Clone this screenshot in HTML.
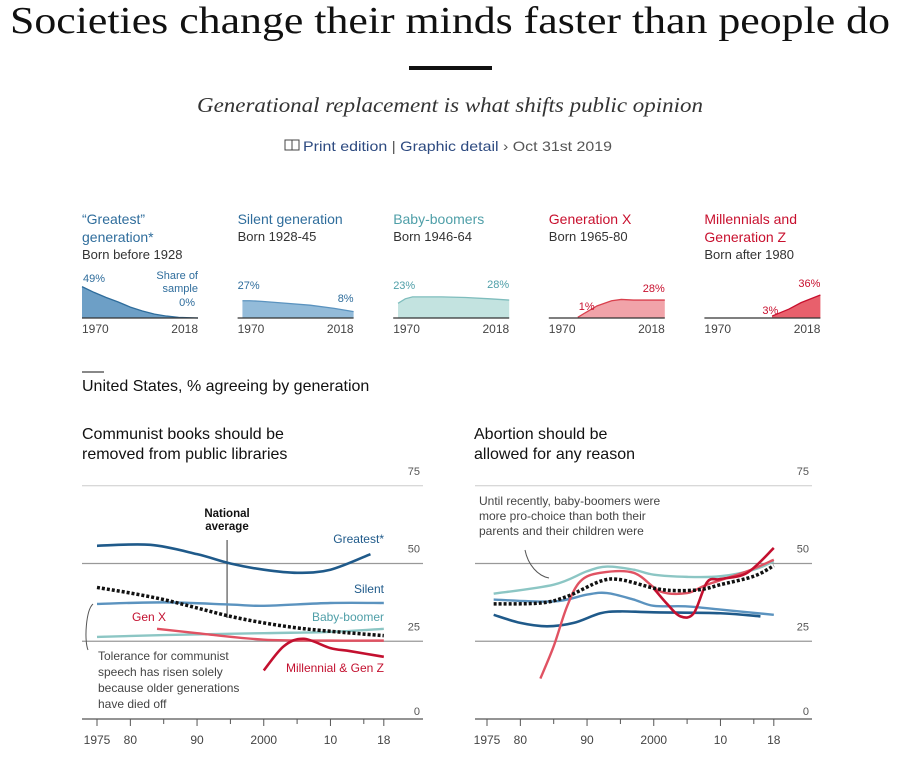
<!DOCTYPE html>
<html><head><meta charset="utf-8"><style>
body{margin:0;background:#fff;width:900px;height:763px;overflow:hidden}
svg text{font-family:"Liberation Sans",sans-serif}
</style></head><body>
<svg id="s" width="900" height="763" xmlns="http://www.w3.org/2000/svg">
<text x="450" y="33" text-anchor="middle" font-size="38" fill="#111" textLength="880" lengthAdjust="spacingAndGlyphs" style="font-family:'Liberation Serif',serif">Societies change their minds faster than people do</text>
<rect x="409" y="66" width="83" height="4" fill="#111"/>
<text x="450" y="112" text-anchor="middle" font-size="21" font-style="italic" fill="#333" textLength="506" lengthAdjust="spacingAndGlyphs" style="font-family:'Liberation Serif',serif">Generational replacement is what shifts public opinion</text>
<g font-size="14">
<rect x="285" y="140" width="7" height="10" fill="none" stroke="#444"/>
<rect x="292" y="140" width="7" height="10" fill="none" stroke="#444"/>
<text x="303" y="151" fill="#555" textLength="309" lengthAdjust="spacingAndGlyphs"><tspan fill="#2d4a80">Print edition</tspan> | <tspan fill="#2d4a80">Graphic detail</tspan> › Oct 31st 2019</text>
</g>
<g id="mini"></g>
<line x1="82" y1="372" x2="104" y2="372" stroke="#111"/>
<text x="82" y="391" font-size="16" fill="#111">United States, % agreeing by generation</text>
<text x="82" y="439" font-size="16" fill="#111">Communist books should be</text>
<text x="82" y="459" font-size="16" fill="#111">removed from public libraries</text>
<text x="474" y="439" font-size="16" fill="#111">Abortion should be</text>
<text x="474" y="459" font-size="16" fill="#111">allowed for any reason</text>
<g id="left"></g><g id="right"></g>
</svg>
<script>
const NS="http://www.w3.org/2000/svg";
// ---- mini chart data (share of sample %)
const miniNames=["\u201cGreatest\u201d|generation*","Silent generation","Baby-boomers","Generation X","Millennials and|Generation Z"];
const miniSub=["Born before 1928","Born 1928-45","Born 1946-64","Born 1965-80","Born after 1980"];
const miniYears=[[1970,1975,1980,1985,1990,1995,2000,2005,2010,2018],[1972,1975,1980,1990,2000,2010,2018],[1972,1975,1978,1985,1990,2000,2010,2018],[1982,1985,1990,1996,2000,2005,2010,2018],[1998,2005,2010,2018]];
const miniVals=[[49,40,32,25,17,11,6,3,1,0],[27,27,26,23,20,15,10],[23,30,33,33,33,32,30,28],[1,8,19,27,29,28,28,28],[3,14,24,36]];
const miniStart=["49%","27%","23%","1%","3%"];
const miniEnd=["0%","8%","28%","28%","36%"];
// ---- left chart data
const lYears={greatest:[1975,1983,1990,1995,2000,2005,2010,2016],silent:[1975,1985,1995,2000,2010,2018],boomer:[1975,1985,2000,2010,2018],genx:[1984,1990,2000,2010,2018],millennial:[2000,2003,2006,2010,2013,2018],national:[1975,1980,1985,1990,1995,2000,2005,2010,2018]};
const lVals={greatest:[55.7,56,53,50,48,47,48,53],silent:[37,37.5,36.8,36.4,37.3,37.3],boomer:[26.4,27,27.6,28,29],genx:[29,27.6,25.5,25.2,25.2],millennial:[15.6,23.4,25.8,22.8,21.8,20],national:[42.3,40.5,38.4,35.7,33,30.9,29.3,28.2,26.8]};
// ---- right chart data
const rYears={boomer:[1976,1985,1990,1993,1997,2000,2005,2010,2015,2018],genx:[1983,1985,1987,1989,1992,1997,2001,2005,2008,2014,2018],millennial:[2000,2002,2004,2006,2008,2010,2014,2018],silent:[1976,1985,1990,1993,1997,2000,2005,2010,2018],greatest:[1976,1980,1984,1988,1992,1995,2000,2010,2016],national:[1976,1983,1987,1992,1995,2000,2003,2007,2010,2015,2018]};
const rVals={boomer:[40.3,43.2,47.5,49,48,46.4,45.7,45.9,48,50.7],genx:[13,23.4,36.2,44.3,47,47,41,40.5,43.2,47.5,51.2],millennial:[42,37,33,34,44,45,47,55],silent:[38.4,37.8,40,40.5,38.4,36.4,36.2,35.2,33.5],greatest:[33.5,30.9,29.8,30.9,34,34.6,34.3,34,33],national:[37,37.3,39.4,44.3,44.8,42.1,41.3,41.6,43.2,45.9,49.3]};
const yTicks=[0,25,50,75];
const xTickLabels=[[1975,"1975"],[1980,"80"],[1990,"90"],[2000,"2000"],[2010,"10"],[2018,"18"]];
const xMinor=[1985,1995,2005,2015];

function el(tag,attrs,parent,name,inter){const e=document.createElementNS(NS,tag);for(const k in attrs)e.setAttribute(k,attrs[k]);


parent.appendChild(e);return e;}
function txt(parent,x,y,s,attrs,name){const t=el('text',Object.assign({x:x,y:y},attrs||{}),parent,name,false);t.textContent=s;return t;}
function smooth(pts){let d="M"+pts[0][0]+","+pts[0][1];for(let i=0;i<pts.length-1;i++){const p0=pts[i-1]||pts[i],p1=pts[i],p2=pts[i+1],p3=pts[i+2]||p2;
d+=" C"+(p1[0]+(p2[0]-p0[0])/6)+","+(p1[1]+(p2[1]-p0[1])/6)+" "+(p2[0]-(p3[0]-p1[0])/6)+","+(p2[1]-(p3[1]-p1[1])/6)+" "+p2[0]+","+p2[1];}return d;}

// mini charts
const mini=document.getElementById('mini');
const lineCols=["#2f6d9c","#5b93bf","#7fbdbd","#d9404d","#c8102e"];
const fillCols=["#6d9fc6","#93bbd9","#c3e3e0","#f1a3a9","#e8606c"];
const titleCols=["#2f6d9c","#2f6d9c","#4f9fa8","#c8102e","#c8102e"];
miniNames.forEach((n,i)=>{
 const px=82+i*155.6,base=318,w=116;
 const g=el('g',{},mini,'mini-chart-'+i,false);
 const parts=n.split("|");
 parts.forEach((p,j)=>txt(g,px,224+j*18,p,{"font-size":14,fill:titleCols[i]},'mini-title'));
 txt(g,px,224+parts.length*18-1,miniSub[i],{"font-size":13,fill:"#333"},'mini-subtitle');
 const mx=y=>px+(y-1970)/48*w, my=v=>base-v*0.64;
 const pts=miniYears[i].map((y,k)=>[mx(y),my(miniVals[i][k])]);
 let d="M"+pts[0][0]+","+base+" L"+pts.map(p=>p.join(",")).join(" L")+" L"+pts[pts.length-1][0]+","+base+"Z";
 el('path',{d:d,fill:fillCols[i],stroke:"none"},g,'mini-area',false);
 el('path',{d:"M"+pts.map(p=>p.join(",")).join(" L"),fill:"none",stroke:lineCols[i],"stroke-width":1.3},g,'mini-area-line',false);
 el('line',{x1:px,y1:base,x2:px+w,y2:base,stroke:"#333","stroke-width":1.2},g,'mini-baseline',false);
 txt(g,px,333,"1970",{"font-size":12,fill:"#444"},'mini-x-start');
 txt(g,px+w,333,"2018",{"font-size":12,fill:"#444","text-anchor":"end"},'mini-x-end');
 const c=titleCols[i];
 if(i==0){txt(g,px+1,282,miniStart[0],{"font-size":11,fill:c},'mini-start-label');
  txt(g,px+w,279,"Share of",{"font-size":11,fill:c,"text-anchor":"end"},'mini-share-label');
  txt(g,px+w,292,"sample",{"font-size":11,fill:c,"text-anchor":"end"},'mini-share-label');
  txt(g,px+w-3,306,miniEnd[0],{"font-size":11,fill:c,"text-anchor":"end"},'mini-end-label');}
 else{const sx=[0,px,px,px+30,px+58][i]-0,sy=[0,289,289,310,314][i];
  txt(g,sx,sy,miniStart[i],{"font-size":11,fill:c},'mini-start-label');
  const ey=[0,302,288,292,287][i];
  txt(g,px+w,ey,miniEnd[i],{"font-size":11,fill:c,"text-anchor":"end"},'mini-end-label');}
});

function axes(g,x0,x1,X,Y){
 yTicks.forEach(v=>{
  if(v>0)el('line',{x1:x0,y1:Y(v),x2:x1,y2:Y(v),stroke:v==75?"#ccc":"#999","stroke-width":v==75?1:1.3},g,'gridline-'+v,false);
  txt(g,x1-3,Y(v)-(v==0?4:11),String(v),{"font-size":11,fill:"#555","text-anchor":"end"},'y-tick-label');
 });
 el('line',{x1:x0,y1:Y(0),x2:x1,y2:Y(0),stroke:"#555","stroke-width":1.3},g,'x-axis',false);
 xTickLabels.forEach(t=>{el('line',{x1:X(t[0]),y1:Y(0),x2:X(t[0]),y2:Y(0)+7,stroke:"#555"},g,'x-tick',false);
  txt(g,X(t[0]),Y(0)+25,t[1],{"font-size":12,fill:"#444","text-anchor":"middle"},'x-tick-label');});
 xMinor.forEach(y=>el('line',{x1:X(y),y1:Y(0),x2:X(y),y2:Y(0)+5,stroke:"#555"},g,'x-minor-tick',false));
}
const cols={greatest:"#1f5a8a",silent:"#5b93bf",boomer:"#8cc6c4",genx:"#e05262",millennial:"#c3102f"};
function series(g,years,vals,X,Y,order){
 order.forEach(k=>{const pts=years[k].map((y,i)=>[X(y),Y(vals[k][i])]);
  if(k=="national")el('path',{d:smooth(pts),fill:"none",stroke:"#111","stroke-width":3.5,"stroke-dasharray":"3 2"},g,'line-national-average',false);
  else el('path',{d:smooth(pts),fill:"none",stroke:cols[k],"stroke-width":k=="greatest"||k=="millennial"?2.6:2.4},g,'line-'+k,false);});
}
// left
const L=document.getElementById('left');
const LX=y=>97+(y-1975)*6.67, LY=v=>719-v*3.11;
axes(L,82,423,LX,LY);
el('line',{x1:LX(1994.5),y1:540,x2:LX(1994.5),y2:618,stroke:"#333"},L,'national-average-pointer',false);
series(L,lYears,lVals,LX,LY,["boomer","genx","silent","greatest","millennial","national"]);
txt(L,227,517,"National",{"font-size":11.5,"font-weight":"bold",fill:"#111","text-anchor":"middle"},'national-average-label');
txt(L,227,530,"average",{"font-size":11.5,"font-weight":"bold",fill:"#111","text-anchor":"middle"},'national-average-label');
txt(L,384,543,"Greatest*",{"font-size":12,fill:"#1f5a8a","text-anchor":"end"},'label-greatest');
txt(L,384,593,"Silent",{"font-size":12,fill:"#1f5a8a","text-anchor":"end"},'label-silent');
txt(L,384,621,"Baby-boomer",{"font-size":12,fill:"#4f9fa8","text-anchor":"end"},'label-boomer');
txt(L,132,621,"Gen X",{"font-size":12,fill:"#c3102f"},'label-genx');
txt(L,384,672,"Millennial & Gen Z",{"font-size":12,fill:"#c3102f","text-anchor":"end"},'label-millennial');
el('path',{d:"M93,604 C86,610 84,640 88,650",fill:"none",stroke:"#555"},L,'annotation-arrow',false);
["Tolerance for communist","speech has risen solely","because older generations","have died off"].forEach((s,i)=>txt(L,98,660+i*16,s,{"font-size":12,fill:"#444"},'left-annotation'));
// right
const R=document.getElementById('right');
const RX=y=>487+(y-1975)*6.67, RY=v=>719-v*3.11;
axes(R,475,812,RX,RY);
series(R,rYears,rVals,RX,RY,["boomer","silent","greatest","genx","millennial","national"]);
["Until recently, baby-boomers were","more pro-choice than both their","parents and their children were"].forEach((s,i)=>txt(R,479,505+i*15,s,{"font-size":12,fill:"#444"},'right-annotation'));
el('path',{d:"M525,550 C528,565 538,576 549,578",fill:"none",stroke:"#555"},R,'right-annotation-arrow',false);
</script>
</body></html>
